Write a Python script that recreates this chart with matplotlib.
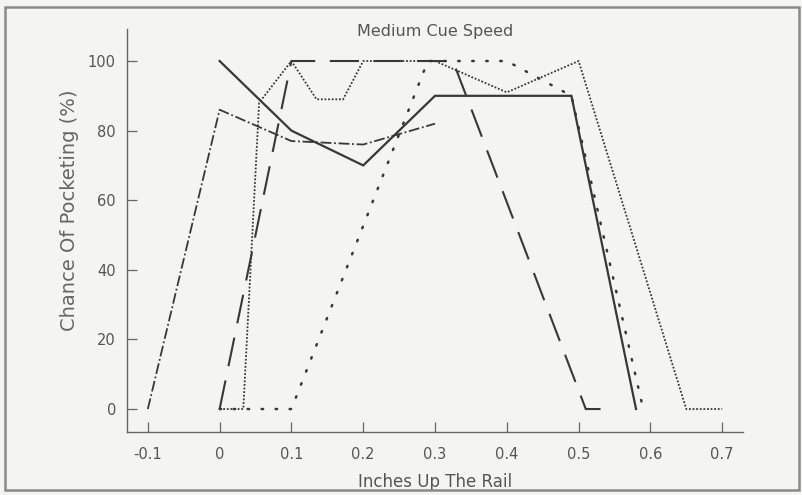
import matplotlib
matplotlib.use("Agg")
import matplotlib.pyplot as plt
from matplotlib.patches import Rectangle

# data
solid_x = [0, 0.1, 0.2, 0.3, 0.49, 0.58]
solid_y = [100, 80, 70, 90, 90, 0]

longdash_x = [0, 0.1, 0.325, 0.51, 0.55]
longdash_y = [0, 100, 100, 0, 0]

dashdot_x = [-0.1, 0, 0.1, 0.2, 0.3]
dashdot_y = [0, 86, 77, 76, 82]

finedot_x = [0, 0.033, 0.055, 0.1, 0.135, 0.172, 0.2, 0.3, 0.4, 0.5, 0.65, 0.7]
finedot_y = [0, 0, 88, 100, 89, 89, 100, 100, 91, 100, 0, 0]

sparsedot_x = [0, 0.1, 0.29, 0.4, 0.49, 0.59]
sparsedot_y = [0, 0, 100, 100, 90, 0]

xticks = [-0.1, 0, 0.1, 0.2, 0.3, 0.4, 0.5, 0.6, 0.7]
xtick_labels = ['-0.1', '0', '0.1', '0.2', '0.3', '0.4', '0.5', '0.6', '0.7']
yticks = [0, 20, 40, 60, 80, 100]

plt.rcParams['font.family'] = ['DejaVu Sans']
txt = '#555555'
ink = '#383838'

fig = plt.figure(figsize=(8.02, 4.95), dpi=100, facecolor='#f4f4f2')
ax = fig.add_axes([127/802, 1 - 432/495, (743-127)/802, (432-29)/495])
ax.set_facecolor('#f4f4f2')

ax.plot(solid_x, solid_y, color=ink, lw=1.6, solid_joinstyle='miter')
ax.plot(longdash_x, longdash_y, color=ink, lw=1.5, dashes=(14, 7))
ax.plot(dashdot_x, dashdot_y, color=ink, lw=1.3, dashes=(6, 1.5, 1, 1.5))
ax.plot(finedot_x, finedot_y, color=ink, lw=1.3, dashes=(1, 1))
ax.plot(sparsedot_x, sparsedot_y, color=ink, lw=1.8, dashes=(0.6, 5),
        dash_capstyle='round')

ax.set_xlim(-0.129, 0.729)
ax.set_ylim(-6.6, 109.2)
ax.set_xticks(xticks)
ax.set_xticklabels(xtick_labels)
ax.set_yticks(yticks)

for s in ['top', 'right']:
    ax.spines[s].set_visible(False)
for s in ['left', 'bottom']:
    ax.spines[s].set_color('#666666')
    ax.spines[s].set_linewidth(1.0)

ax.tick_params(direction='in', length=7, width=0.9, color='#666666',
               labelcolor=txt, labelsize=10.5)
ax.tick_params(axis='x', pad=11)
ax.tick_params(axis='y', pad=8)

ax.set_xlabel('Inches Up The Rail', color=txt, fontsize=12, labelpad=8)
ax.set_ylabel('Chance Of Pocketing (%)', color='#666666', fontsize=14)
ax.yaxis.set_label_coords(-0.078, 0.55)
ax.text(0.5, 0.995, 'Medium Cue Speed', transform=ax.transAxes, ha='center',
        va='center', color=txt, fontsize=11.5)

# scanned page border
fig.patches.append(Rectangle((5/802, 5/495), 794/802, 483/495, fill=False,
                             edgecolor='#8a8a8a', lw=1.8,
                             transform=fig.transFigure))

fig.savefig('out.png', dpi=100, facecolor=fig.get_facecolor())
